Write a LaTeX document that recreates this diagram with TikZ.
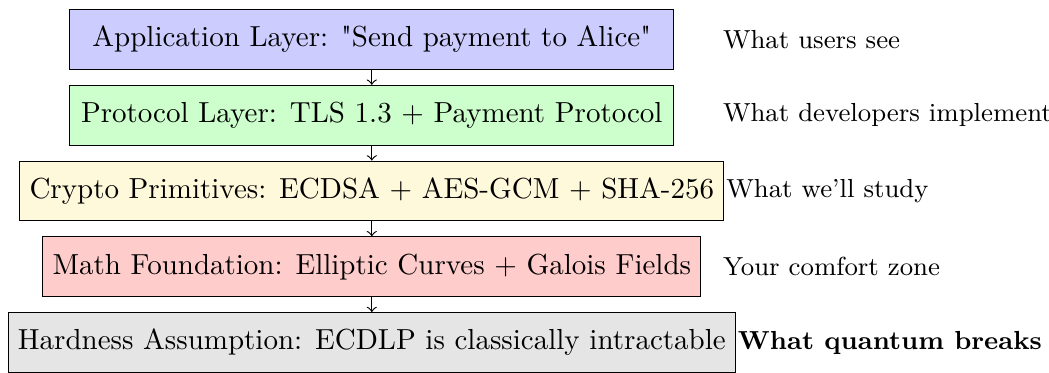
\documentclass[tikz,border=0pt]{standalone}
\definecolor{creamfill}{RGB}{255,249,219}
\begin{document}
\begin{tikzpicture}[
  layer/.style={draw, minimum height=20.6pt, minimum width=208.2pt, inner sep=3.33pt},
  note/.style={anchor=west, inner sep=0pt, font=\small},
  flow/.style={->}
]
\useasboundingbox (0,0) rectangle (361.7pt,-128.3pt);
\coordinate (lx) at (249.1pt,0);

% the stack of layers, top to bottom
\node[layer, fill=blue!20]   (app)  at (128.2pt,-13.62pt) {Application Layer: \textquotedbl Send payment to Alice\textquotedbl};
\node[layer, fill=green!20]  (prot) at (128.2pt,-39.74pt) {Protocol Layer: TLS 1.3 + Payment Protocol};
\node[layer, fill=creamfill] (cry)  at (128.2pt,-65.86pt) {Crypto Primitives: ECDSA + AES-GCM + SHA-256};
\node[layer, fill=red!20]    (math) at (128.2pt,-91.98pt) {Math Foundation: Elliptic Curves + Galois Fields};
\node[layer, fill=gray!20]   (hard) at (128.2pt,-118.1pt) {Hardness Assumption: ECDLP is classically intractable};

% arrows between layers
\draw[flow] (app)  -- (prot);
\draw[flow] (prot) -- (cry);
\draw[flow] (cry)  -- (math);
\draw[flow] (math) -- (hard);

% side notes
\node[note] (n1) at (lx |- app.east)  {What users see};
\node[note] (n2) at (lx |- prot.east) {What developers implement};
\node[note] (n3) at ([xshift=0.5pt]cry.east) {What we'll study};
\node[note] (n4) at (lx |- math.east) {Your comfort zone};
\node[note] (n5) at ([xshift=0.5pt]hard.east) {\textbf{What quantum breaks}};
\end{tikzpicture}
\end{document}
